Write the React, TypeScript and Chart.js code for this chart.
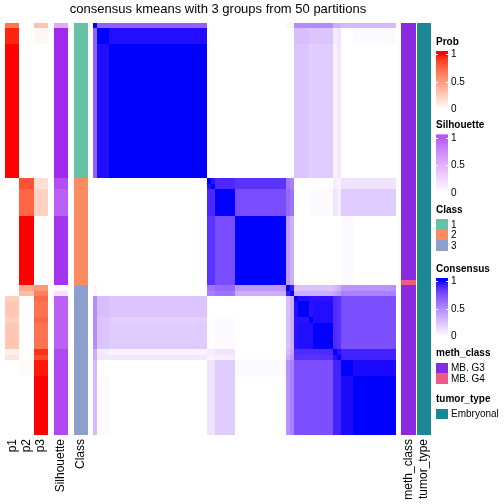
import React, { useEffect, useRef } from "react";
import { Chart, registerables } from "chart.js";

Chart.register(...registerables);

// ---------------- data ----------------
const TITLE = "consensus kmeans with 3 groups from 50 partitions";

// samples in heatmap order are grouped in runs that share the same profile
const groupSizes = [1, 3, 25, 2, 5, 13, 1, 1, 1, 3, 1, 5, 1, 1, 3, 11];
const groupClass = [1, 1, 1, 2, 2, 2, 3, 3, 3, 3, 3, 3, 3, 3, 3, 3];
const probP1 = [0.69, 0.96, 1, 0, 0, 0, 0, 0, 0.25, 0.3, 0.25, 0.3, 0.07, 0.14, 0, 0];
const probP2 = [0, 0, 0, 0.83, 0.76, 1, 0.46, 0.35, 0, 0, 0, 0, 0, 0, 0.02, 0];
const probP3 = [0.31, 0.04, 0, 0.17, 0.24, 0, 0.54, 0.65, 0.75, 0.7, 0.75, 0.7, 0.93, 0.86, 0.98, 1];
const silhouette = [0.42, 0.98, 0.98, 0.85, 0.78, 0.95, 0.03, 0.15, 0.78, 0.78, 0.78, 0.78, 0.88, 0.88, 0.88, 0.88];

// upper triangle of the (symmetric) consensus between run groups
const consensusUpper = [
  [1, 0.68, 0.68, 0, 0, 0, 0.04, 0.04, 0.5, 0.5, 0.5, 0.5, 0.35, 0.35, 0.3, 0.3],
  [1, 0.98, 0, 0, 0, 0, 0, 0.28, 0.28, 0.25, 0.25, 0.08, 0.1, 0, 0.02],
  [1, 0, 0, 0, 0, 0, 0.25, 0.25, 0.2, 0.22, 0.05, 0.1, 0, 0],
  [0.97, 0.91, 0.87, 0.6, 0.55, 0, 0, 0, 0, 0.07, 0.05, 0.12, 0.12],
  [1, 0.77, 0.65, 0.6, 0, 0, 0.02, 0.02, 0.12, 0.07, 0.22, 0.22],
  [1, 0.44, 0.35, 0, 0, 0, 0, 0, 0, 0.02, 0],
  [1, 0.95, 0.27, 0.27, 0.27, 0.27, 0.3, 0.35, 0.47, 0.47],
  [1, 0.35, 0.35, 0.35, 0.35, 0.4, 0.45, 0.55, 0.55],
  [1, 0.98, 0.97, 0.97, 0.9, 0.88, 0.76, 0.76],
  [1, 0.97, 0.98, 0.9, 0.88, 0.76, 0.76],
  [1, 0.98, 0.9, 0.88, 0.76, 0.76],
  [1, 0.9, 0.88, 0.76, 0.76],
  [1, 0.97, 0.93, 0.93],
  [1, 0.93, 0.93],
  [1, 0.985],
  [1],
];

const classLevels = ["1", "2", "3"];
const methClassLevels = ["MB. G3", "MB. G4"];
const methClassRuns = [
  [0, 48],
  [1, 1],
  [0, 28],
]; // [level index, number of samples]
const tumorTypeLevels = ["Embryonal"];
const tumorTypeRuns = [[0, 77]];
const gradientTicks = [1, 0.5, 0];
const gradientTickLabels = ["1", "0.5", "0"];

// ---------------- styles / layout ----------------
const FONT = "'Liberation Sans', Arial, Helvetica, sans-serif";
const CLASS_COLORS = ["#66c2a5", "#fc8d62", "#8da0cb"];
const METH_COLORS = ["#8a2be2", "#ee5a85"];
const TUMOR_COLORS = ["#1b8797"];
const RED = "#ff0000";
const PURPLE = "#a020f0";
const BLUE = "#0000ff";

const HEAT_X0 = 93;
const HEAT_X1 = 396;
const AREA_LEFT = 5;
const AREA_RIGHT = 431;
const AREA_BOTTOM = 435;
const LABEL_TOP = 439;
const LEG_X = 436;
const LEG_W = 12;

// ---------------- colour helpers (LAB interpolation) ----------------
function toLin(c: number) {
  c /= 255;
  return c <= 0.04045 ? c / 12.92 : Math.pow((c + 0.055) / 1.055, 2.4);
}
function fromLin(v: number) {
  v = Math.max(0, Math.min(1, v));
  const s = v <= 0.0031308 ? 12.92 * v : 1.055 * Math.pow(v, 1 / 2.4) - 0.055;
  return Math.round(s * 255);
}
const WX = 0.95047, WY = 1, WZ = 1.08883;
function hexToLab(hex: string) {
  const r = toLin(parseInt(hex.slice(1, 3), 16));
  const g = toLin(parseInt(hex.slice(3, 5), 16));
  const b = toLin(parseInt(hex.slice(5, 7), 16));
  const X = (0.4124 * r + 0.3576 * g + 0.1805 * b) / WX;
  const Y = (0.2126 * r + 0.7152 * g + 0.0722 * b) / WY;
  const Z = (0.0193 * r + 0.1192 * g + 0.9505 * b) / WZ;
  const f = (t: number) => (t > 0.008856 ? Math.cbrt(t) : 7.787 * t + 16 / 116);
  const fx = f(X), fy = f(Y), fz = f(Z);
  return [116 * fy - 16, 500 * (fx - fy), 200 * (fy - fz)];
}
function labToRgb(L: number, a: number, bb: number) {
  const fy = (L + 16) / 116;
  const fx = fy + a / 500;
  const fz = fy - bb / 200;
  const inv = (t: number) => (t * t * t > 0.008856 ? t * t * t : (t - 16 / 116) / 7.787);
  const X = WX * inv(fx), Y = WY * inv(fy), Z = WZ * inv(fz);
  const r = 3.2406 * X - 1.5372 * Y - 0.4986 * Z;
  const g = -0.9689 * X + 1.8758 * Y + 0.0415 * Z;
  const b = 0.0557 * X - 0.204 * Y + 1.057 * Z;
  return `rgb(${fromLin(r)},${fromLin(g)},${fromLin(b)})`;
}
function ramp(high: string) {
  const lo = hexToLab("#ffffff");
  const hi = hexToLab(high);
  return (t: number) => {
    const u = Math.max(0, Math.min(1, t));
    return labToRgb(lo[0] + (hi[0] - lo[0]) * u, lo[1] + (hi[1] - lo[1]) * u, lo[2] + (hi[2] - lo[2]) * u);
  };
}
const probColor = ramp(RED);
const silColor = ramp(PURPLE);
const consColor = ramp(BLUE);

// ---------------- derived ----------------
const sampleGroup: number[] = [];
groupSizes.forEach((s, g) => {
  for (let k = 0; k < s; k++) sampleGroup.push(g);
});
const N = sampleGroup.length;
const G = groupSizes.length;
const consensus: number[][] = Array.from({ length: G }, () => new Array(G).fill(0));
consensusUpper.forEach((row, a) => {
  row.forEach((v, k) => {
    consensus[a][a + k] = v;
    consensus[a + k][a] = v;
  });
});
function expandRuns(runs: number[][]) {
  const out: number[] = [];
  runs.forEach(([lvl, n]) => {
    for (let k = 0; k < n; k++) out.push(lvl);
  });
  return out;
}
const methClass = expandRuns(methClassRuns);
const tumorType = expandRuns(tumorTypeRuns);
const rows = Array.from({ length: N }, (_, i) => i);

const CW = (HEAT_X1 - HEAT_X0) / N;
const toUnit = (px: number) => (px - HEAT_X0) / CW;

const annotCols = [
  { name: "p1", px: [5, 19.5], color: (i: number) => probColor(probP1[sampleGroup[i]]) },
  { name: "p2", px: [19.5, 33.8], color: (i: number) => probColor(probP2[sampleGroup[i]]) },
  { name: "p3", px: [33.8, 48], color: (i: number) => probColor(probP3[sampleGroup[i]]) },
  { name: "Silhouette", px: [54, 68], color: (i: number) => silColor(silhouette[sampleGroup[i]]) },
  { name: "Class", px: [74, 88], color: (i: number) => CLASS_COLORS[groupClass[sampleGroup[i]] - 1] },
  { name: "meth_class", px: [401, 416], color: (i: number) => METH_COLORS[methClass[i]] },
  { name: "tumor_type", px: [417, 431], color: (i: number) => TUMOR_COLORS[tumorType[i]] },
];

function buildDatasets() {
  const ds: any[] = [];
  for (let j = 0; j < N; j++) {
    ds.push({
      label: `col ${j}`,
      data: rows.map(() => [j, j + 1]),
      backgroundColor: rows.map((i) =>
        consColor(i === j ? 1 : consensus[sampleGroup[i]][sampleGroup[j]])
      ),
    });
  }
  annotCols.forEach((c) => {
    ds.push({
      label: c.name,
      data: rows.map(() => [toUnit(c.px[0]), toUnit(c.px[1])]),
      backgroundColor: rows.map((i) => c.color(i)),
    });
  });
  return ds;
}

// snap the scale-computed bar edges to whole pixels (crisp raster-like cells)
const snapPlugin = {
  id: "snapCells",
  afterDatasetsUpdate(chart: any) {
    chart.data.datasets.forEach((_: any, di: number) => {
      const meta = chart.getDatasetMeta(di);
      meta.data.forEach((el: any) => {
        const l = Math.round(Math.min(el.x, el.base));
        const r = Math.round(Math.max(el.x, el.base));
        const t = Math.round(el.y - el.height / 2);
        const b = Math.round(el.y + el.height / 2);
        el.base = l;
        el.x = r;
        el.width = r - l;
        el.y = (t + b) / 2;
        el.height = b - t;
      });
    });
  },
};

// ---------------- legend / label drawing plugin ----------------
function gradientLegend(ctx: CanvasRenderingContext2D, title: string, T: number, col: (t: number) => string) {
  ctx.fillStyle = "#000";
  ctx.font = `bold 10px ${FONT}`;
  ctx.textAlign = "left";
  ctx.textBaseline = "middle";
  ctx.fillText(title, LEG_X, T);
  const top = T + 9;
  const y1 = T + 12;
  const y0 = T + 67;
  for (let y = top; y < y0; y += 1) {
    const v = y < y1 ? 1 : 1 - (y - y1) / (y0 - y1);
    ctx.fillStyle = col(v);
    ctx.fillRect(LEG_X, y, LEG_W, 1);
  }
  ctx.strokeStyle = "#ffffff";
  ctx.lineWidth = 1;
  ctx.font = `10px ${FONT}`;
  gradientTicks.forEach((v, k) => {
    const y = Math.round(y0 - v * (y0 - y1)) + 0.5;
    ctx.beginPath();
    ctx.moveTo(LEG_X, y);
    ctx.lineTo(LEG_X + 2, y);
    ctx.moveTo(LEG_X + LEG_W - 2, y);
    ctx.lineTo(LEG_X + LEG_W, y);
    ctx.stroke();
    ctx.fillStyle = "#000";
    ctx.fillText(gradientTickLabels[k], LEG_X + LEG_W + 3, y);
  });
}

function discreteLegend(ctx: CanvasRenderingContext2D, title: string, T: number, labels: string[], colors: string[]) {
  ctx.fillStyle = "#000";
  ctx.font = `bold 10px ${FONT}`;
  ctx.textAlign = "left";
  ctx.textBaseline = "middle";
  ctx.fillText(title, LEG_X, T);
  const h = 10.5;
  ctx.font = `10px ${FONT}`;
  labels.forEach((lab, k) => {
    const y = T + 9 + k * h;
    ctx.fillStyle = colors[k];
    ctx.fillRect(LEG_X, Math.round(y), LEG_W, Math.round(y + h) - Math.round(y));
    ctx.fillStyle = "#000";
    ctx.fillText(lab, LEG_X + LEG_W + 3, y + h / 2 + 0.5);
  });
}

const decorPlugin = {
  id: "decor",
  afterDraw(chart: any) {
    const ctx: CanvasRenderingContext2D = chart.ctx;
    ctx.save();
    ctx.fillStyle = "#000";
    ctx.font = `12px ${FONT}`;
    ctx.textAlign = "right";
    ctx.textBaseline = "middle";
    annotCols.forEach((c) => {
      const cx = (c.px[0] + c.px[1]) / 2;
      ctx.save();
      ctx.translate(cx, LABEL_TOP);
      ctx.rotate(-Math.PI / 2);
      ctx.fillText(c.name, 0, 0);
      ctx.restore();
    });
    gradientLegend(ctx, "Prob", 42, probColor);
    gradientLegend(ctx, "Silhouette", 125.5, silColor);
    discreteLegend(ctx, "Class", 210, classLevels, CLASS_COLORS);
    gradientLegend(ctx, "Consensus", 269, consColor);
    discreteLegend(ctx, "meth_class", 353.5, methClassLevels, METH_COLORS);
    discreteLegend(ctx, "tumor_type", 399.5, tumorTypeLevels, TUMOR_COLORS);
    ctx.restore();
  },
};

export default function App() {
  const ref = useRef<HTMLCanvasElement | null>(null);
  useEffect(() => {
    if (!ref.current) return;
    const chart = new Chart(ref.current, {
      type: "bar",
      data: { labels: rows.map((i) => String(i)), datasets: buildDatasets() },
      options: {
        animation: false,
        responsive: false,
        devicePixelRatio: 1,
        indexAxis: "y",
        layout: { padding: { left: AREA_LEFT, right: 504 - AREA_RIGHT, top: 0, bottom: 504 - AREA_BOTTOM } },
        datasets: {
          bar: {
            grouped: false,
            barPercentage: 1,
            categoryPercentage: 1,
            borderWidth: 0,
            inflateAmount: 0,
          },
        } as any,
        scales: {
          x: { type: "linear", min: toUnit(AREA_LEFT), max: toUnit(AREA_RIGHT), display: false },
          y: { type: "category", display: false, offset: true },
        },
        plugins: {
          legend: { display: false },
          tooltip: { enabled: false },
          title: {
            display: true,
            text: TITLE,
            fullSize: false,
            color: "#000",
            font: { family: FONT, size: 13, weight: "normal" },
            padding: { top: 2, bottom: 5.4 },
          },
        },
      } as any,
      plugins: [snapPlugin, decorPlugin],
    });
    return () => chart.destroy();
  }, []);
  return (
    <div style={{ position: "absolute", left: 0, top: 0, width: 504, height: 504, background: "#fff" }}>
      <canvas ref={ref} width={504} height={504} style={{ display: "block", width: 504, height: 504 }} />
    </div>
  );
}
